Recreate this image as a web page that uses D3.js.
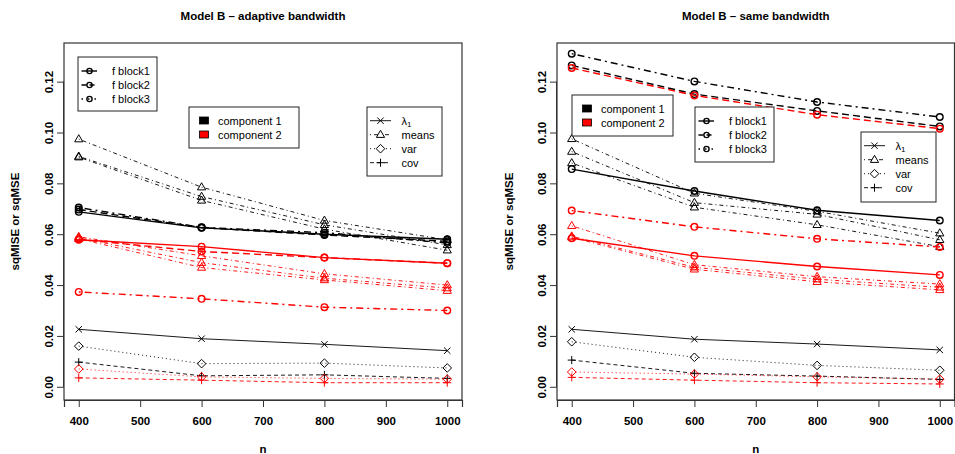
<!DOCTYPE html>
<html>
<head>
<meta charset="utf-8">
<script src="https://cdn.jsdelivr.net/npm/d3@7"></script>
<style>
  body { margin: 0; background: #fff; }
  svg { display: block; font-family: "Liberation Sans", Arial, Helvetica, sans-serif; }
</style>
</head>
<body>
<div id="canvas"></div>
<script>
// x values and ticks
const nValues = [400, 600, 800, 1000];
const xTicks = [400, 500, 600, 700, 800, 900, 1000];
const yTicks = [0, 0.02, 0.04, 0.06, 0.08, 0.10, 0.12];

// adaptive bandwidth, component 1 (black)
const adFBlock1C1 = [0.0688, 0.0625, 0.0600, 0.0580];
const adFBlock2C1 = [0.0697, 0.0626, 0.0597, 0.0572];
const adFBlock3C1 = [0.0705, 0.0627, 0.0606, 0.0566];
const adLambda    = [0.0226, 0.0189, 0.0167, 0.0142];
const adMeans1C1  = [0.0974, 0.0785, 0.0654, 0.0578];
const adMeans2C1  = [0.0906, 0.0748, 0.0637, 0.0558];
const adMeans3C1  = [0.0903, 0.0733, 0.0620, 0.0537];
const adVarC1     = [0.0160, 0.0091, 0.0093, 0.0074];
const adCovC1     = [0.0097, 0.0043, 0.0047, 0.0033];
// adaptive bandwidth, component 2 (red)
const adFBlock1C2 = [0.0578, 0.0551, 0.0508, 0.0486];
const adFBlock2C2 = [0.0580, 0.0532, 0.0508, 0.0486];
const adFBlock3C2 = [0.0373, 0.0346, 0.0313, 0.0300];
const adMeans1C2  = [0.0590, 0.0515, 0.0444, 0.0400];
const adMeans2C2  = [0.0586, 0.0488, 0.0427, 0.0388];
const adMeans3C2  = [0.0582, 0.0469, 0.0420, 0.0378];
const adVarC2     = [0.0070, 0.0039, 0.0033, 0.0030];
const adCovC2     = [0.0035, 0.0026, 0.0016, 0.0016];

// same bandwidth, component 1 (black)
const sbFBlock1C1 = [0.0856, 0.0770, 0.0694, 0.0654];
const sbFBlock2C1 = [0.1264, 0.1151, 0.1085, 0.1024];
const sbFBlock3C1 = [0.1310, 0.1201, 0.1120, 0.1061];
const sbLambda    = [0.0226, 0.0187, 0.0168, 0.0145];
const sbMeans1C1  = [0.0975, 0.0761, 0.0690, 0.0604];
const sbMeans2C1  = [0.0925, 0.0724, 0.0678, 0.0578];
const sbMeans3C1  = [0.0880, 0.0706, 0.0637, 0.0551];
const sbVarC1     = [0.0177, 0.0116, 0.0084, 0.0065];
const sbCovC1     = [0.0105, 0.0053, 0.0042, 0.0029];
// same bandwidth, component 2 (red)
const sbFBlock1C2 = [0.0584, 0.0515, 0.0473, 0.0440];
const sbFBlock2C2 = [0.1254, 0.1146, 0.1070, 0.1015];
const sbFBlock3C2 = [0.0693, 0.0629, 0.0582, 0.0550];
const sbMeans1C2  = [0.0633, 0.0480, 0.0433, 0.0404];
const sbMeans2C2  = [0.0592, 0.0470, 0.0423, 0.0391];
const sbMeans3C2  = [0.0588, 0.0462, 0.0413, 0.0381];
const sbVarC2     = [0.0058, 0.0050, 0.0039, 0.0030];
const sbCovC2     = [0.0037, 0.0026, 0.0016, 0.0011];

const fLabels = ["f block1", "f block2", "f block3"];
const compLabels = ["component 1", "component 2"];
const paramLabels = ["λ", "means", "var", "cov"];

const BLACK = "#000", RED = "#ff0000";

// line style per kind of series
const styles = {
    f1:     { dash: null,        lw: 1.4, marker: "circle" },
    f2:     { dash: "7,4",       lw: 1.4, marker: "circle" },
    f3:     { dash: "2,4,7,4",   lw: 1.4, marker: "circle" },
    lambda: { dash: null,        lw: 0.9, marker: "times" },
    means:  { dash: "1,3,4,3",   lw: 0.9, marker: "triangle" },
    vari:   { dash: "1,3",       lw: 0.9, marker: "diamond" },
    cov:    { dash: "4,3",       lw: 0.9, marker: "plus" }
};

const markerPath = {
    circle: d3.symbol(d3.symbolCircle, Math.PI * 3.3 * 3.3)(),
    triangle: "M0,-4.4L4.1,2.7L-4.1,2.7Z",
    diamond: "M0,-4.3L4.3,0L0,4.3L-4.3,0Z",
    plus: "M-4,0H4M0,-4V4",
    times: "M-3.2,-3.2L3.2,3.2M3.2,-3.2L-3.2,3.2"
};

const panels = [
    {
        title: "Model B \u2013 adaptive bandwidth",
        left: 64, right: 462, ylabX: 19, tickLabX: 53,
        series: [
            [adFBlock1C1, "f1", BLACK], [adFBlock2C1, "f2", BLACK], [adFBlock3C1, "f3", BLACK],
            [adLambda, "lambda", BLACK],
            [adMeans1C1, "means", BLACK], [adMeans2C1, "means", BLACK], [adMeans3C1, "means", BLACK],
            [adVarC1, "vari", BLACK], [adCovC1, "cov", BLACK],
            [adFBlock1C2, "f1", RED], [adFBlock2C2, "f2", RED], [adFBlock3C2, "f3", RED],
            [adMeans1C2, "means", RED], [adMeans2C2, "means", RED], [adMeans3C2, "means", RED],
            [adVarC2, "vari", RED], [adCovC2, "cov", RED]
        ],
        fLegend: { x: 78, y: 57, w: 79, h: 54 },
        compLegend: { x: 189, y: 107, w: 110, h: 41 },
        paramLegend: { x: 367, y: 107, w: 75, h: 69 }
    },
    {
        title: "Model B \u2013 same bandwidth",
        left: 557, right: 954.5, ylabX: 513, tickLabX: 546,
        series: [
            [sbFBlock1C1, "f1", BLACK], [sbFBlock2C1, "f2", BLACK], [sbFBlock3C1, "f3", BLACK],
            [sbLambda, "lambda", BLACK],
            [sbMeans1C1, "means", BLACK], [sbMeans2C1, "means", BLACK], [sbMeans3C1, "means", BLACK],
            [sbVarC1, "vari", BLACK], [sbCovC1, "cov", BLACK],
            [sbFBlock1C2, "f1", RED], [sbFBlock2C2, "f2", RED], [sbFBlock3C2, "f3", RED],
            [sbMeans1C2, "means", RED], [sbMeans2C2, "means", RED], [sbMeans3C2, "means", RED],
            [sbVarC2, "vari", RED], [sbCovC2, "cov", RED]
        ],
        fLegend: { x: 695, y: 107, w: 79, h: 55 },
        compLegend: { x: 572, y: 95, w: 101, h: 41 },
        paramLegend: { x: 861, y: 132, w: 75, h: 70 }
    }
];

const width = 955, height = 454;
const plotTop = 43, plotBottom = 400;

const svg = d3.select("#canvas").append("svg")
    .attr("width", width).attr("height", height)
    .attr("viewBox", [0, 0, width, height]);

panels.forEach(p => {
    // R-style axis extension of 4%
    const x = d3.scaleLinear().domain([376, 1024]).range([p.left, p.right]);
    const y = d3.scaleLinear().domain([-0.0052, 0.1352]).range([plotBottom, plotTop]);
    const g = svg.append("g");

    // box
    g.append("rect")
        .attr("x", p.left).attr("y", plotTop)
        .attr("width", p.right - p.left).attr("height", plotBottom - plotTop)
        .attr("fill", "none").attr("stroke", "#333").attr("stroke-width", 1.2);

    // x axis
    const xAxis = g.append("g").attr("transform", `translate(0,${plotBottom})`)
        .call(d3.axisBottom(x).tickValues(xTicks).tickSize(7).tickPadding(10).tickFormat(d3.format("d")));
    xAxis.select(".domain").attr("stroke", "#333").attr("stroke-width", 1.2);
    xAxis.selectAll(".tick line").attr("stroke", "#333");
    xAxis.selectAll("text").attr("font-size", 11.5).attr("font-weight", "bold")
        .attr("font-family", "Liberation Sans, Arial, sans-serif").attr("fill", "#000");

    // y axis
    const yAxis = g.append("g").attr("transform", `translate(${p.left},0)`)
        .call(d3.axisLeft(y).tickValues(yTicks).tickSize(7).tickFormat(d3.format(".2f")));
    yAxis.select(".domain").attr("d", `M-0.5,${y(0)}V${y(0.12)}`).attr("stroke", "#333");
    yAxis.selectAll(".tick line").attr("stroke", "#333");
    yAxis.selectAll("text")
        .attr("x", null).attr("dy", null)
        .attr("transform", `translate(${p.tickLabX - p.left},0) rotate(-90)`)
        .attr("text-anchor", "middle")
        .attr("font-size", 11.5).attr("font-weight", "bold")
        .attr("font-family", "Liberation Sans, Arial, sans-serif").attr("fill", "#000");

    // titles and axis labels
    g.append("text").attr("x", (p.left + p.right) / 2).attr("y", 19.5)
        .attr("text-anchor", "middle").attr("font-size", 11.5).attr("font-weight", "bold")
        .text(p.title);
    g.append("text").attr("x", (p.left + p.right) / 2).attr("y", 453)
        .attr("text-anchor", "middle").attr("font-size", 11.5).attr("font-weight", "bold")
        .text("n");
    g.append("text")
        .attr("transform", `translate(${p.ylabX},${(plotTop + plotBottom) / 2}) rotate(-90)`)
        .attr("text-anchor", "middle").attr("font-size", 11.5).attr("font-weight", "bold")
        .text("sqMISE or sqMSE");

    // lines and markers
    const line = d3.line().x((d, i) => x(nValues[i])).y(d => y(d));
    const plot = g.append("g");
    p.series.forEach(([vals, kind, color]) => {
        const st = styles[kind];
        plot.append("path")
            .attr("d", line(vals))
            .attr("fill", "none").attr("stroke", color)
            .attr("stroke-width", st.lw)
            .attr("stroke-dasharray", st.dash);
        plot.append("g").selectAll("path")
            .data(vals)
            .join("path")
            .attr("transform", (d, i) => `translate(${x(nValues[i])},${y(d)})`)
            .attr("d", markerPath[st.marker])
            .attr("fill", "none").attr("stroke", color)
            .attr("stroke-width", kind.startsWith("f") ? 1.4 : 1);
    });

    // legend: f blocks
    const fl = p.fLegend;
    const lg1 = g.append("g");
    lg1.append("rect").attr("x", fl.x).attr("y", fl.y).attr("width", fl.w).attr("height", fl.h)
        .attr("fill", "#fff").attr("stroke", "#222");
    ["f1", "f2", "f3"].forEach((k, i) => {
        const yy = fl.y + 14 + i * 14;
        const st = styles[k];
        lg1.append("path").attr("d", `M${fl.x + 3.5},${yy}H${fl.x + 19}`)
            .attr("stroke", BLACK).attr("stroke-width", st.lw)
            .attr("stroke-dasharray", k === "f1" ? null : (k === "f2" ? "5,3" : "1.5,5"));
        lg1.append("path").attr("transform", `translate(${fl.x + 11.5},${yy})`)
            .attr("d", d3.symbol(d3.symbolCircle, Math.PI * 2.6 * 2.6)())
            .attr("fill", "none").attr("stroke", BLACK).attr("stroke-width", 1.4);
        lg1.append("text").attr("x", fl.x + 34).attr("y", yy + 4)
            .attr("font-size", 11).text(fLabels[i]);
    });

    // legend: components
    const cl = p.compLegend;
    const lg2 = g.append("g");
    lg2.append("rect").attr("x", cl.x).attr("y", cl.y).attr("width", cl.w).attr("height", cl.h)
        .attr("fill", "#fff").attr("stroke", "#222");
    [BLACK, RED].forEach((c, i) => {
        const yy = cl.y + 13.5 + i * 14;
        lg2.append("rect").attr("x", cl.x + 10.5).attr("y", yy - 3.5).attr("width", 9).attr("height", 7)
            .attr("fill", c).attr("stroke", "#000").attr("stroke-width", 0.8);
        lg2.append("text").attr("x", cl.x + 29).attr("y", yy + 4)
            .attr("font-size", 11).text(compLabels[i]);
    });

    // legend: parameters
    const pl = p.paramLegend;
    const lg3 = g.append("g");
    lg3.append("rect").attr("x", pl.x).attr("y", pl.y).attr("width", pl.w).attr("height", pl.h)
        .attr("fill", "#fff").attr("stroke", "#222");
    ["lambda", "means", "vari", "cov"].forEach((k, i) => {
        const yy = pl.y + 13.7 + i * 14;
        const st = styles[k];
        lg3.append("path").attr("d", `M${pl.x + 3},${yy}H${pl.x + 24}`)
            .attr("stroke", BLACK).attr("stroke-width", st.lw)
            .attr("stroke-dasharray", st.dash);
        lg3.append("path").attr("transform", `translate(${pl.x + 13.5},${yy})`)
            .attr("d", markerPath[st.marker])
            .attr("fill", "#fff").attr("stroke", BLACK).attr("stroke-width", 1);
        const t = lg3.append("text").attr("x", pl.x + 34.5).attr("y", yy + 4).attr("font-size", 11);
        if (k === "lambda") {
            t.append("tspan").text(paramLabels[i]);
            t.append("tspan").attr("font-size", 8).attr("dy", 2.5).text("1");
        } else {
            t.text(paramLabels[i]);
        }
    });
});
</script>
</body>
</html>
